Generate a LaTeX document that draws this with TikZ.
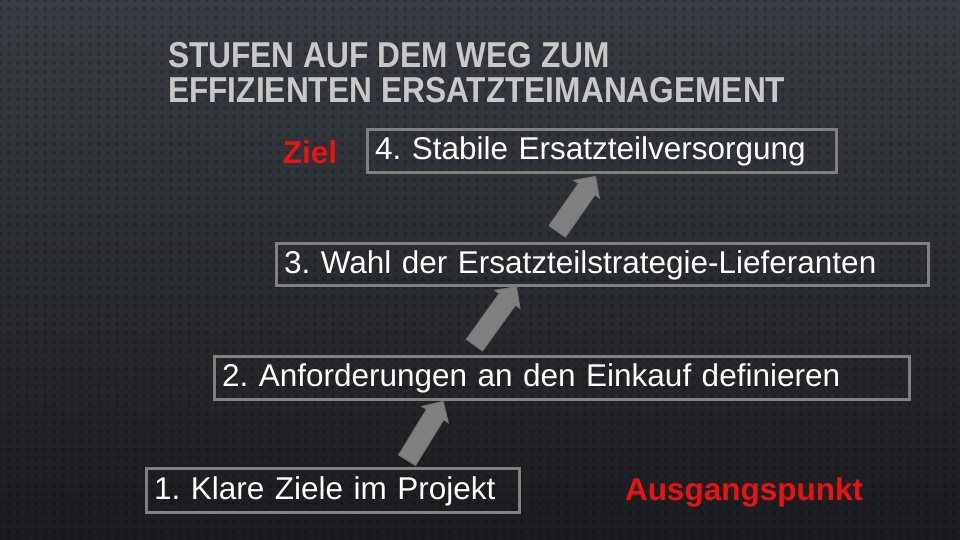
\documentclass[tikz,border=0pt]{standalone}
\usepackage{fontspec}
\setmainfont{Liberation Sans}
\usetikzlibrary{shapes.arrows,patterns.meta}
\frenchspacing

\definecolor{bgoben}{RGB}{56,60,66}
\definecolor{bgunten}{RGB}{27,28,31}
\definecolor{rahmen}{RGB}{128,128,128}
\definecolor{titelgrau}{RGB}{200,200,200}
\definecolor{zielrot}{RGB}{232,18,18}

\tikzset{
  stufe/.style={draw=rahmen,line width=3pt,inner xsep=7.5pt,align=left,
    text=white,font=\fontsize{31.5}{34}\selectfont,text height=23pt,text depth=6pt},
  stufenpfeil/.style={single arrow,fill=rahmen,draw=black!55,line width=1pt,
    minimum width=30pt,single arrow head extend=5.5pt,inner xsep=0pt,inner ysep=9.5pt,
    minimum height=#1},
  titel/.style={anchor=base west,text=titelgrau,font=\fontsize{36}{40}\bfseries,xscale=0.88},
  marke/.style={text=zielrot,font=\fontsize{31.5}{34}\bfseries}
}

\begin{document}
\begin{tikzpicture}[x=1pt,y=-1pt]
        \useasboundingbox (0,0) rectangle (960,540);
        \fill[top color=bgoben,bottom color=bgunten] (0,0) rectangle (960,540);
        \fill[pattern={Dots[distance=9pt,radius=2pt]},pattern color=black,fill opacity=0.2] (0,0) rectangle (960,540);

        %%%%%%%%%% Titel %%%%%%%%%%
        \node (titel1) at (165,68) [titel] {STUFEN AUF DEM WEG ZUM};
        \node (titel2) at (165,103) [titel] {EFFIZIENTEN ERSATZTEIMANAGEMENT};

        %%%%%%%%%% Stufen %%%%%%%%%%
        \node (b4) at (602,151) [stufe,minimum width=469pt,minimum height=43pt,text width=454pt] {4. Stabile Ersatzteilversorgung};
        \node (b3) at (602.5,264.5) [stufe,minimum width=652pt,minimum height=42pt,text width=637pt] {3. Wahl der Ersatzteilstrategie-Lieferanten};
        \node (b2) at (562,378) [stufe,minimum width=695pt,minimum height=43pt,text width=680pt] {2. Anforderungen an den Einkauf definieren};
        \node (b1) at (333,490.5) [stufe,minimum width=373pt,minimum height=44pt,text width=358pt] {1. Klare Ziele im Projekt};

        \node (ziel) at (310,152) [marke] {Ziel};
        \node (start) at (744,492) [marke] {Ausgangspunkt};

        %%%%%%%%% Frecce %%%%%%%%%
        \coordinate (p1a) at ([shift={(72,-3.5)}]b1.north);
        \coordinate (p1b) at ([shift={(-122,5.5)}]b2.south);
        \coordinate (p2a) at ([shift={(-90,-6.5)}]b2.north);
        \coordinate (p2b) at ([shift={(-89.5,4.5)}]b3.south);
        \coordinate (p3a) at ([shift={(-47.5,-7.5)}]b3.north);
        \coordinate (p3b) at ([shift={(-10,7.5)}]b4.south);
        \path (p1a) -- node[stufenpfeil=69pt,sloped] (f1) {} (p1b);
        \path (p2a) -- node[stufenpfeil=72pt,sloped] (f2) {} (p2b);
        \path (p3a) -- node[stufenpfeil=67pt,sloped] (f3) {} (p3b);
    \end{tikzpicture}
\end{document}
